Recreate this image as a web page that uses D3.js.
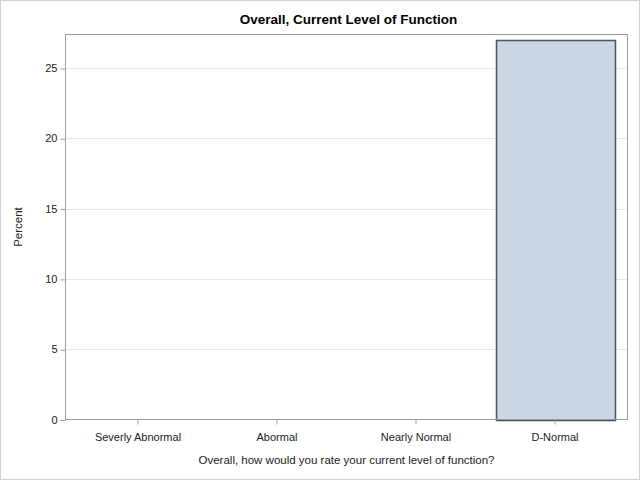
<!DOCTYPE html>
<html><head><meta charset="utf-8">
<script src="https://cdn.jsdelivr.net/npm/d3@7"></script>
<style>body{margin:0;background:#fff}svg{display:block}text{font-family:"Liberation Sans",Arial,sans-serif}</style>
</head><body>
<script>
const categories = ["Severly Abnormal", "Abormal", "Nearly Normal", "D-Normal"];
const percents = [0, 0, 0, 27.0];
const yTicks = [0, 5, 10, 15, 20, 25];
const titleText = "Overall, Current Level of Function";
const xLabel = "Overall, how would you rate your current level of function?";
const yLabel = "Percent";

const W = 640, H = 480;
const m = {left: 65.5, right: 12.5, top: 34.5, bottom: 60.5};
const svg = d3.select("body").append("svg").attr("width", W).attr("height", H);
svg.append("rect").attr("x",0.5).attr("y",0.5).attr("width",W-1).attr("height",H-1)
  .attr("fill","#fff").attr("stroke","#d0d0d0");

const x = d3.scaleBand().domain(categories).range([m.left + 3, W - m.right - 3]).paddingInner(0.145).paddingOuter(0.0725);
const y = d3.scaleLinear().domain([0, 27.38]).range([H - m.bottom, m.top]);

// gridlines
svg.append("g").selectAll("line").data(yTicks.filter(d=>d>0)).join("line")
  .attr("x1", m.left).attr("x2", W - m.right)
  .attr("y1", d => Math.round(y(d))+0.5).attr("y2", d => Math.round(y(d))+0.5)
  .attr("stroke", "#e8e8e8");

// bars
svg.append("g").selectAll("rect").data(categories.map((c,i)=>({c, v: percents[i]})).filter(d=>d.v>0)).join("rect")
  .attr("x", d => Math.round(x(d.c))+0.5).attr("width", Math.round(x.bandwidth()))
  .attr("y", d => Math.round(y(d.v))+0.5).attr("height", d => Math.round(y(0)) - Math.round(y(d.v)))
  .attr("fill", "#cad5e5").attr("stroke", "#4a5560").attr("stroke-width", 1.5);

// frame
svg.append("rect").attr("x", m.left).attr("y", m.top)
  .attr("width", W - m.right - m.left).attr("height", H - m.bottom - m.top)
  .attr("fill", "none").attr("stroke", "#9a9ea3");

// y axis
const ya = svg.append("g").attr("transform", `translate(${m.left},0)`)
  .call(d3.axisLeft(y).tickValues(yTicks).tickSize(5).tickPadding(3).tickFormat(d3.format("d")));
ya.select(".domain").remove();
ya.selectAll("line").attr("stroke", "#9a9ea3").attr("transform", "translate(0,0.5)");
ya.selectAll("text").attr("font-size", 11).attr("fill", "#222").attr("font-family", '"Liberation Sans",Arial,sans-serif');

// x axis
const xa = svg.append("g").attr("transform", `translate(0,${H - m.bottom})`)
  .call(d3.axisBottom(x).tickSize(5).tickPadding(9));
xa.select(".domain").remove();
xa.selectAll("line").attr("stroke", "#9a9ea3");
xa.selectAll("text").attr("font-size", 11).attr("fill", "#222").attr("font-family", '"Liberation Sans",Arial,sans-serif');

svg.append("text").attr("x", (m.left + W - m.right)/2 + 2).attr("y", 24)
  .attr("text-anchor", "middle").attr("font-size", 13.5).attr("font-weight", "bold").attr("fill","#000").text(titleText);
svg.append("text").attr("x", (m.left + W - m.right)/2).attr("y", 464)
  .attr("text-anchor", "middle").attr("font-size", 11.5).attr("fill","#222").text(xLabel);
svg.append("text").attr("transform", `translate(22,${(m.top + H - m.bottom)/2}) rotate(-90)`)
  .attr("text-anchor", "middle").attr("font-size", 11.5).attr("fill","#222").text(yLabel);
</script>
</body></html>
